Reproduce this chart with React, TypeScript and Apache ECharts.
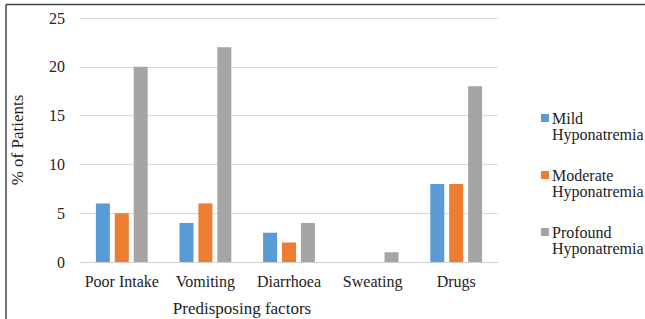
import React, { useEffect, useRef } from "react";
import * as echarts from "echarts";

const categories = ["Poor Intake", "Vomiting", "Diarrhoea", "Sweating", "Drugs"];
const mild = [6, 4, 3, 0, 8];
const moderate = [5, 6, 2, 0, 8];
const profound = [20, 22, 4, 1, 18];
const seriesNames = ["Mild\nHyponatremia", "Moderate\nHyponatremia", "Profound\nHyponatremia"];
const colors = ["#5B9BD5", "#ED7D31", "#A5A5A5"];

export default function App() {
  const ref = useRef<HTMLDivElement>(null);
  useEffect(() => {
    const chart = echarts.init(ref.current!, null, { renderer: "svg" });
    const font = "Liberation Serif";
    const data = [mild, moderate, profound];
    const legendGraphics: any[] = [];
    seriesNames.forEach((n, i) => {
      legendGraphics.push({
        type: "rect",
        shape: { x: 541, y: 114 + 57 * i, width: 8, height: 8 },
        style: { fill: colors[i] },
      });
      legendGraphics.push({
        type: "text",
        x: 552,
        y: 110 + 57 * i,
        style: {
          text: n,
          fontFamily: font,
          fontSize: 16,
          fill: "#222",
          lineHeight: 16,
          verticalAlign: "top",
        },
      });
    });
    chart.setOption({
      animation: false,
      textStyle: { fontFamily: font },
      grid: { left: 80, right: 147, top: 18, bottom: 57, outerBoundsMode: "none", containLabel: false },
      graphic: [
        { type: "line", shape: { x1: 6, y1: 4.5, x2: 645, y2: 4.5 }, style: { stroke: "#444", lineWidth: 1.5 } },
        { type: "line", shape: { x1: 6, y1: 4.5, x2: 6, y2: 319 }, style: { stroke: "#444", lineWidth: 1.5 } },
        ...legendGraphics,
      ],
      xAxis: {
        type: "category",
        data: categories,
        axisTick: { show: false },
        axisLine: { lineStyle: { color: "#d0d0d0" } },
        axisLabel: { fontFamily: font, fontSize: 16, color: "#222", margin: 11, interval: 0 },
        name: "Predisposing factors",
        nameLocation: "middle",
        nameGap: 38,
        nameTextStyle: { fontFamily: font, fontSize: 17, color: "#222", padding: [0, 94, 0, 0] },
      },
      yAxis: {
        type: "value",
        min: 0,
        max: 25,
        interval: 5,
        axisLabel: { fontFamily: font, fontSize: 16, color: "#222", margin: 15 },
        splitLine: { lineStyle: { color: "#d9d9d9" } },
        name: "% of Patients",
        nameLocation: "middle",
        nameGap: 54,
        nameTextStyle: { fontFamily: font, fontSize: 17, color: "#222" },
      },
      series: seriesNames.map((n, i) => ({
        type: "bar",
        name: n,
        data: data[i],
        itemStyle: { color: colors[i] },
        barGap: "35%",
        barCategoryGap: "38%",
      })),
    });
    return () => chart.dispose();
  }, []);
  return (
    <div
      ref={ref}
      style={{ position: "fixed", left: 0, top: 0, width: 645, height: 319, background: "#fff" }}
    />
  );
}
